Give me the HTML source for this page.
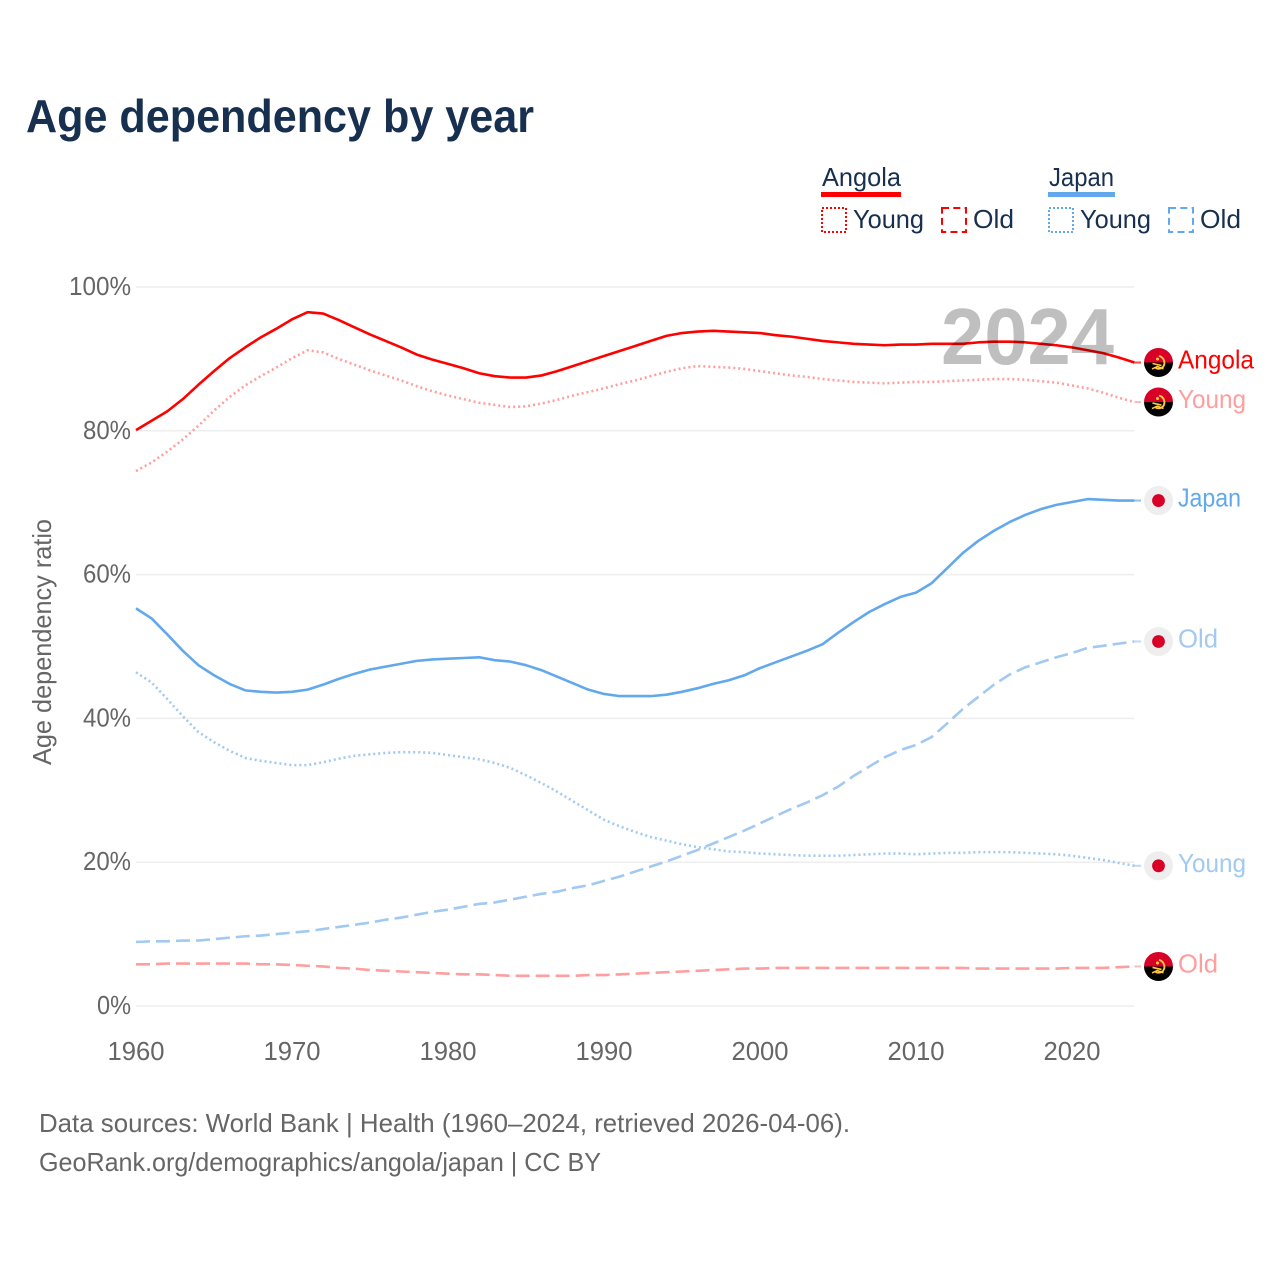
<!DOCTYPE html>
<html lang="en">
<head>
<meta charset="utf-8">
<title>Age dependency by year</title>
<style>
html,body{margin:0;padding:0;background:#fff;}
svg{display:block;}
text{font-family:"Liberation Sans",sans-serif;}
</style>
</head>
<body>
<svg id="chart" width="1280" height="1280" viewBox="0 0 1280 1280" xmlns="http://www.w3.org/2000/svg">
  <defs>
    <g id="angola-flag">
      <clipPath id="flag-clip"><circle cx="0" cy="0" r="14.5"/></clipPath>
      <g clip-path="url(#flag-clip)">
        <rect x="-15" y="-15" width="30" height="15" fill="#d80027"/>
        <rect x="-15" y="0" width="30" height="15" fill="#000"/>
      </g>
      <path d="M0.5 -6.5 A7 7 0 0 1 4.5 4.5 A7 7 0 0 1 -3 5.5" fill="none" stroke="#ffc940" stroke-width="1.9"/>
      <path d="M-6.5 6.5 L-1 4 L5 6.5" fill="none" stroke="#ffc940" stroke-width="1.5"/>
      <path d="M-6 1 L3 3" fill="none" stroke="#ffc940" stroke-width="1.6"/>
      <circle cx="-1" cy="-3.5" r="1.5" fill="#ffc940"/>
    </g>
    <g id="japan-flag">
      <circle cx="0" cy="0" r="14.5" fill="#eeeeee"/>
      <circle cx="0" cy="0" r="6.4" fill="#d80027"/>
    </g>
  </defs>
  <rect x="0" y="0" width="1280" height="1280" fill="#fff"/>
  <text x="26" y="132" font-size="46" font-weight="700" fill="#18304f" textLength="508" lengthAdjust="spacingAndGlyphs">Age dependency by year</text>

  <g>
    <text x="822" y="186" font-size="26" fill="#18304f" textLength="79" lengthAdjust="spacingAndGlyphs">Angola</text>
    <rect x="821" y="192" width="80" height="5" fill="#ff0000"/>
    <rect x="822" y="208" width="24" height="24" fill="none" stroke="#ff0000" stroke-width="2" stroke-dasharray="2 2"/>
    <text x="853" y="228" font-size="26" fill="#18304f" textLength="71" lengthAdjust="spacingAndGlyphs">Young</text>
    <rect x="942" y="208" width="24" height="24" fill="none" stroke="#ff0000" stroke-width="2" stroke-dasharray="7 4.3"/>
    <text x="973" y="228" font-size="26" fill="#18304f" textLength="41" lengthAdjust="spacingAndGlyphs">Old</text>
    <text x="1049" y="186" font-size="26" fill="#18304f" textLength="65" lengthAdjust="spacingAndGlyphs">Japan</text>
    <rect x="1048" y="192" width="67" height="5" fill="#62a8ec"/>
    <rect x="1049" y="208" width="24" height="24" fill="none" stroke="#62a8ec" stroke-width="2" stroke-dasharray="2 2"/>
    <text x="1080" y="228" font-size="26" fill="#18304f" textLength="71" lengthAdjust="spacingAndGlyphs">Young</text>
    <rect x="1169" y="208" width="24" height="24" fill="none" stroke="#62a8ec" stroke-width="2" stroke-dasharray="7 4.3"/>
    <text x="1200" y="228" font-size="26" fill="#18304f" textLength="41" lengthAdjust="spacingAndGlyphs">Old</text>
  </g>

  <g id="grid"></g>
  <g id="y-ticks"></g>
  <g id="x-ticks"></g>
  <text transform="translate(51,765) rotate(-90)" x="0" y="0" font-size="26" fill="#666666" textLength="246" lengthAdjust="spacingAndGlyphs">Age dependency ratio</text>

  <g id="series"></g>
  <text x="941" y="364" font-size="80" font-weight="700" fill="#000000" fill-opacity="0.25" textLength="173" lengthAdjust="spacingAndGlyphs">2024</text>
  <g id="ends"></g>

  <text x="39" y="1132" font-size="26" fill="#666666" textLength="811" lengthAdjust="spacingAndGlyphs">Data sources: World Bank | Health (1960–2024, retrieved 2026-04-06).</text>
  <text x="39" y="1171" font-size="26" fill="#666666" textLength="562" lengthAdjust="spacingAndGlyphs">GeoRank.org/demographics/angola/japan | CC BY</text>
</svg>
<script>
var startYear = 1960;
var yTickValues = [0, 20, 40, 60, 80, 100];
var xTickValues = [1960, 1970, 1980, 1990, 2000, 2010, 2020];

var angolaTotal = [80.1,81.4,82.7,84.4,86.4,88.3,90.1,91.6,93.0,94.2,95.5,96.5,96.3,95.4,94.4,93.4,92.5,91.6,90.6,89.9,89.3,88.7,88.0,87.6,87.4,87.4,87.7,88.3,89.0,89.7,90.4,91.1,91.8,92.5,93.2,93.6,93.8,93.9,93.8,93.7,93.6,93.3,93.1,92.8,92.5,92.3,92.1,92.0,91.9,92.0,92.0,92.1,92.1,92.1,92.3,92.4,92.4,92.3,92.1,91.9,91.6,91.2,90.8,90.2,89.5];
var angolaYoung = [74.4,75.6,77.1,78.8,80.7,82.8,84.7,86.3,87.6,88.8,90.1,91.2,90.9,90.0,89.2,88.4,87.7,87.0,86.2,85.5,84.9,84.4,83.9,83.6,83.3,83.4,83.8,84.3,84.9,85.4,85.9,86.5,87.0,87.6,88.2,88.7,89.0,88.9,88.8,88.6,88.3,88.0,87.7,87.5,87.2,87.0,86.8,86.7,86.6,86.7,86.8,86.8,86.9,87.0,87.1,87.2,87.2,87.1,86.9,86.7,86.3,85.9,85.3,84.6,84.0];
var angolaOld = [5.8,5.8,5.9,5.9,5.9,5.9,5.9,5.9,5.8,5.8,5.7,5.6,5.5,5.3,5.2,5.0,4.9,4.8,4.7,4.6,4.5,4.4,4.4,4.3,4.2,4.2,4.2,4.2,4.2,4.3,4.3,4.4,4.5,4.6,4.7,4.8,4.9,5.0,5.1,5.2,5.2,5.3,5.3,5.3,5.3,5.3,5.3,5.3,5.3,5.3,5.3,5.3,5.3,5.3,5.2,5.2,5.2,5.2,5.2,5.2,5.3,5.3,5.3,5.4,5.5];
var japanTotal = [55.3,53.9,51.7,49.4,47.4,46.0,44.8,43.9,43.7,43.6,43.7,44.0,44.7,45.5,46.2,46.8,47.2,47.6,48.0,48.2,48.3,48.4,48.5,48.1,47.9,47.4,46.7,45.8,44.9,44.0,43.4,43.1,43.1,43.1,43.3,43.7,44.2,44.8,45.3,46.0,47.0,47.8,48.6,49.4,50.3,51.9,53.4,54.8,55.9,56.9,57.5,58.8,60.9,63.0,64.7,66.1,67.3,68.3,69.1,69.7,70.1,70.5,70.4,70.3,70.3];
var japanYoung = [46.4,45.0,42.7,40.3,38.1,36.7,35.5,34.5,34.1,33.8,33.5,33.5,33.9,34.4,34.8,35.0,35.2,35.3,35.3,35.2,34.9,34.6,34.3,33.8,33.1,32.1,31.0,29.8,28.5,27.2,25.9,25.0,24.2,23.5,23.0,22.5,22.1,21.8,21.5,21.4,21.2,21.1,21.0,20.9,20.9,20.9,21.0,21.1,21.2,21.2,21.1,21.2,21.3,21.3,21.4,21.4,21.4,21.3,21.2,21.1,20.9,20.6,20.3,19.9,19.5];
var japanOld = [8.9,9.0,9.0,9.1,9.1,9.3,9.5,9.7,9.8,10.0,10.2,10.4,10.7,11.0,11.3,11.6,12.0,12.3,12.7,13.1,13.4,13.8,14.2,14.4,14.8,15.2,15.6,15.9,16.4,16.8,17.4,18.0,18.7,19.4,20.1,20.9,21.7,22.6,23.5,24.4,25.4,26.4,27.4,28.3,29.3,30.5,32.0,33.3,34.6,35.6,36.3,37.4,39.3,41.3,43.0,44.7,46.1,47.1,47.8,48.5,49.1,49.8,50.1,50.4,50.7];

var NS = 'http://www.w3.org/2000/svg';
function xScale(year){ return 136 + (year - 1960) * 15.6; }
function yScale(v){ return 1006 - v * 7.19; }

function make(parent, tag, attrs, text){
  var el = document.createElementNS(NS, tag);
  for (var k in attrs) el.setAttribute(k, attrs[k]);
  if (text !== undefined) el.textContent = text;
  parent.appendChild(el);
  return el;
}

var gridG = document.getElementById('grid');
var yG = document.getElementById('y-ticks');
yTickValues.forEach(function(v){
  var line = make(gridG, 'line', {x1:136, x2:1134, y1:yScale(v), y2:yScale(v), stroke:'#eeeeee', 'stroke-width':1.5});
  
  
  var label = v + '%';
  var t = make(yG, 'text', {x:131, y:yScale(v) + 8, 'text-anchor':'end', 'font-size':26, fill:'#666666', textLength:(v === 100 ? 62 : v === 0 ? 34 : 48), lengthAdjust:'spacingAndGlyphs'}, label);
  
  
});

var xG = document.getElementById('x-ticks');
xTickValues.forEach(function(y){
  var t = make(xG, 'text', {x:xScale(y), y:1060, 'text-anchor':'middle', 'font-size':26, fill:'#666666', textLength:57, lengthAdjust:'spacingAndGlyphs'}, String(y));
  
  
});

function pathFor(values){
  return values.map(function(v, i){
    return (i ? 'L' : 'M') + xScale(startYear + i).toFixed(2) + ' ' + yScale(v).toFixed(2);
  }).join(' ');
}

var seriesG = document.getElementById('series');
var endsG = document.getElementById('ends');

function drawSeries(name, values, color, dash, flag, label, labelWidth){
  var p = make(seriesG, 'path', {d:pathFor(values), fill:'none', stroke:color, 'stroke-width':2.6, 'stroke-linejoin':'round'});
  if (dash) p.setAttribute('stroke-dasharray', dash);
  
  
  var endY = yScale(values[values.length - 1]);
  var conn = make(seriesG, 'line', {x1:xScale(startYear + values.length - 1), x2:1141, y1:endY, y2:endY, stroke:color, 'stroke-width':2, opacity:0.7});
  
  
  var f = make(endsG, 'use', {href:'#' + flag, x:1158.5, y:endY});
  
  
  var t = make(endsG, 'text', {x:1178, y:endY + 6, 'font-size':26, fill:color, textLength:labelWidth, lengthAdjust:'spacingAndGlyphs'}, label);
  
  
}

drawSeries('japan-old', japanOld, '#a1c9f2', '14 6', 'japan-flag', 'Old', 40);
drawSeries('japan-young', japanYoung, '#a1c9f2', '2 3', 'japan-flag', 'Young', 68);
drawSeries('japan-total', japanTotal, '#62a8ec', null, 'japan-flag', 'Japan', 63);
drawSeries('angola-old', angolaOld, '#ff9e9e', '14 6', 'angola-flag', 'Old', 40);
drawSeries('angola-young', angolaYoung, '#ff9e9e', '2 3', 'angola-flag', 'Young', 68);
drawSeries('angola-total', angolaTotal, '#ff0000', null, 'angola-flag', 'Angola', 76);
</script>
</body>
</html>
